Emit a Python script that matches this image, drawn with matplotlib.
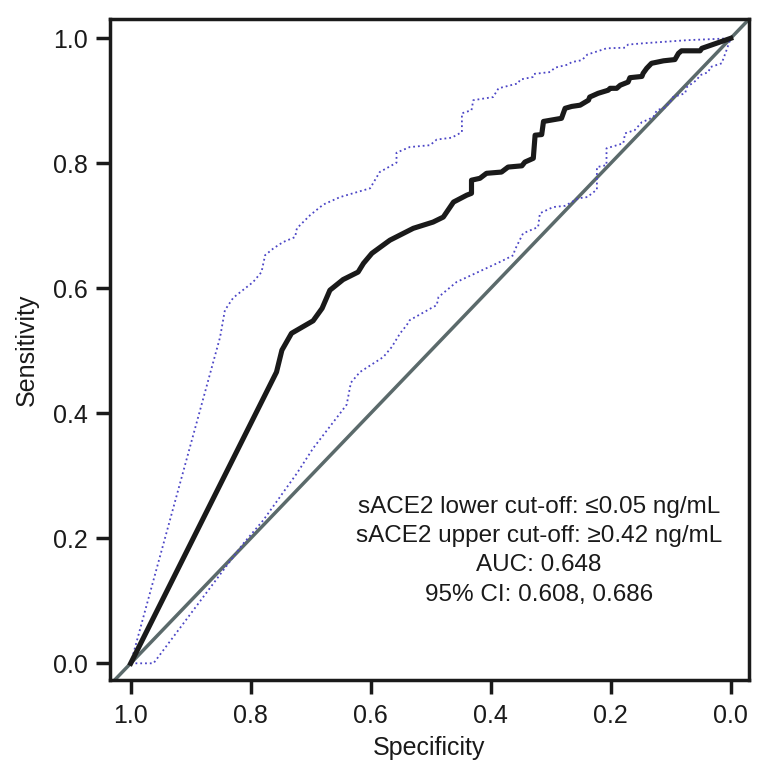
import matplotlib
matplotlib.use("Agg")
import matplotlib.pyplot as plt

plt.rcParams['font.family'] = ['Liberation Sans', 'DejaVu Sans']

# ROC curve (specificity, sensitivity)
roc_spec = [1.000, 0.757, 0.748, 0.732, 0.696, 0.681, 0.668, 0.646, 0.621, 0.612, 0.598, 0.568, 0.529,
            0.496, 0.479, 0.462, 0.440, 0.432, 0.432, 0.418, 0.407, 0.382, 0.371, 0.348, 0.343, 0.329,
            0.326, 0.315, 0.312, 0.282, 0.276, 0.265, 0.251, 0.237, 0.235, 0.221, 0.204, 0.201, 0.190,
            0.184, 0.171, 0.168, 0.148, 0.146, 0.140, 0.132, 0.112, 0.093, 0.087, 0.082, 0.051, 0.048, 0.000]
roc_sens = [0.000, 0.466, 0.501, 0.528, 0.548, 0.568, 0.597, 0.614, 0.626, 0.640, 0.656, 0.677, 0.696,
            0.706, 0.714, 0.738, 0.749, 0.752, 0.773, 0.776, 0.784, 0.786, 0.794, 0.796, 0.802, 0.808,
            0.845, 0.846, 0.867, 0.872, 0.888, 0.891, 0.893, 0.901, 0.906, 0.912, 0.917, 0.920, 0.920,
            0.925, 0.930, 0.937, 0.939, 0.944, 0.952, 0.960, 0.964, 0.966, 0.976, 0.980, 0.980, 0.984, 1.000]

# Upper confidence bound
up_spec = [1.000, 0.851, 0.843, 0.829, 0.796, 0.782, 0.776, 0.762, 0.746, 0.726, 0.723, 0.701, 0.679,
           0.651, 0.601, 0.585, 0.557, 0.557, 0.535, 0.501, 0.490, 0.465, 0.448, 0.448, 0.432, 0.429,
           0.396, 0.387, 0.354, 0.351, 0.330, 0.328, 0.301, 0.293, 0.271, 0.265, 0.248, 0.239, 0.226,
           0.207, 0.176, 0.171, 0.146, 0.073, 0.000]
up_sens = [0.000, 0.522, 0.565, 0.585, 0.610, 0.626, 0.653, 0.664, 0.674, 0.682, 0.696, 0.717, 0.734,
           0.746, 0.760, 0.786, 0.801, 0.817, 0.826, 0.829, 0.838, 0.841, 0.850, 0.880, 0.885, 0.901,
           0.906, 0.920, 0.928, 0.934, 0.938, 0.943, 0.946, 0.953, 0.958, 0.962, 0.965, 0.974, 0.978,
           0.984, 0.985, 0.990, 0.992, 0.997, 1.000]

# Lower confidence bound
lo_spec = [1.000, 0.962, 0.812, 0.779, 0.723, 0.696, 0.651, 0.640, 0.633, 0.618, 0.579, 0.565, 0.551,
           0.540, 0.535, 0.496, 0.490, 0.487, 0.457, 0.421, 0.385, 0.362, 0.360, 0.346, 0.321, 0.318,
           0.296, 0.276, 0.254, 0.239, 0.223, 0.223, 0.207, 0.207, 0.179, 0.176, 0.160, 0.148, 0.140,
           0.129, 0.123, 0.110, 0.101, 0.096, 0.076, 0.073, 0.057, 0.051, 0.037, 0.034, 0.015, 0.007, 0.000]
lo_sens = [0.000, 0.000, 0.192, 0.229, 0.304, 0.344, 0.400, 0.414, 0.449, 0.466, 0.490, 0.506, 0.528,
           0.541, 0.549, 0.570, 0.573, 0.586, 0.610, 0.626, 0.642, 0.653, 0.661, 0.688, 0.698, 0.720,
           0.730, 0.732, 0.744, 0.746, 0.758, 0.794, 0.797, 0.824, 0.832, 0.848, 0.853, 0.866, 0.869,
           0.874, 0.885, 0.889, 0.898, 0.906, 0.912, 0.922, 0.933, 0.941, 0.946, 0.954, 0.960, 0.981, 1.000]

ticks = [1.0, 0.8, 0.6, 0.4, 0.2, 0.0]
tick_labels = ["1.0", "0.8", "0.6", "0.4", "0.2", "0.0"]
annotation = ("sACE2 lower cut-off: \u22640.05 ng/mL\n"
              "sACE2 upper cut-off: \u22650.42 ng/mL\n"
              "AUC: 0.648\n"
              "95% CI: 0.608, 0.686")

fig = plt.figure(figsize=(7.74, 7.82), dpi=100)
ax = fig.add_axes([110/774, 1-680/782, (749-110)/774, (680-19)/782])

ax.axline((1, 0), (0, 1), color='#5b6a6b', lw=2.5, zorder=2)
ax.plot(up_spec, up_sens, color='#4b45c6', lw=1.3, ls=':', zorder=3)
ax.plot(lo_spec, lo_sens, color='#4b45c6', lw=1.3, ls=':', zorder=3)
ax.plot(roc_spec, roc_sens, color='#1a1a1a', lw=3.7, zorder=4, solid_joinstyle='round')

ax.set_xlim(1.0345, -0.0305)
ax.set_ylim(-0.0267, 1.0309)
ax.set_xticks(ticks)
ax.set_xticklabels(tick_labels)
ax.set_yticks(ticks)
ax.set_yticklabels(tick_labels)

for s in ax.spines.values():
    s.set_linewidth(2.5)
    s.set_color('#1a1a1a')
ax.tick_params(axis='both', direction='out', length=10, width=2.5, color='#1a1a1a',
               labelsize=18, labelcolor='#1a1a1a')
ax.tick_params(axis='x', pad=7)
ax.tick_params(axis='y', pad=6)

ax.set_xlabel("Specificity", fontsize=18, color='#1a1a1a', labelpad=6)
ax.set_ylabel("Sensitivity", fontsize=18, color='#1a1a1a', labelpad=10)

ax.text(0.320, 0.180, annotation, ha='center', va='center', fontsize=17.5,
        color='#1a1a1a', linespacing=1.42, zorder=5)

fig.savefig("out.png", dpi=100)
